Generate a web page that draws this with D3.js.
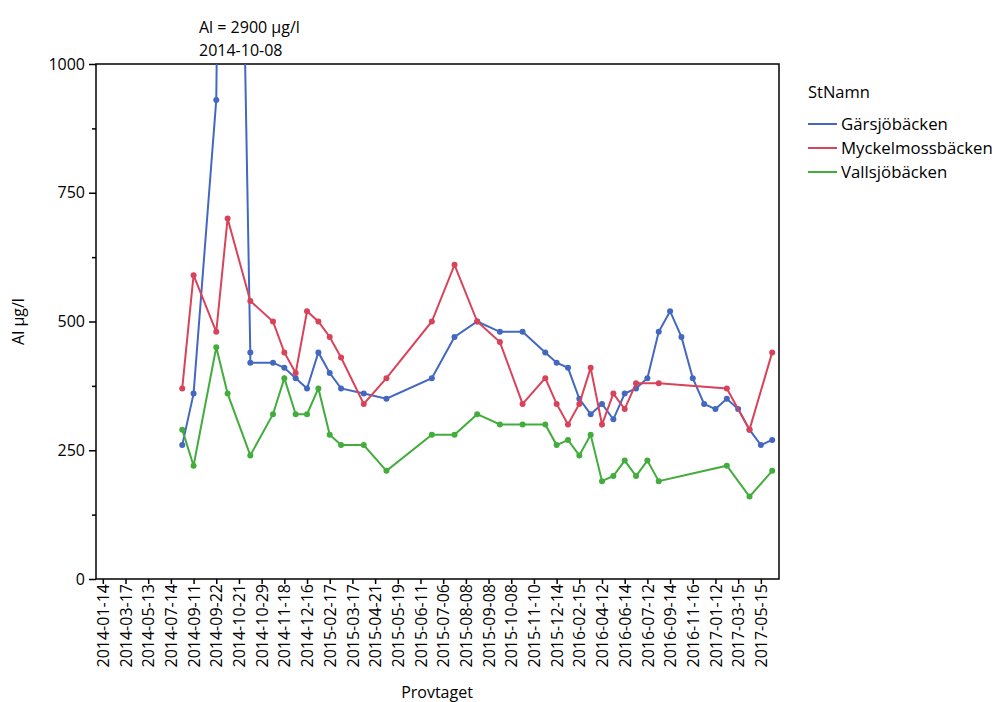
<!DOCTYPE html>
<html>
<head>
<meta charset="utf-8">
<script src="https://cdn.jsdelivr.net/npm/d3@7"></script>
<style>
  body { margin: 0; background: #fff; }
  text { font-family: "Open Sans", sans-serif; fill: #000; }
</style>
</head>
<body>
<svg id="chart" width="997" height="702"></svg>
<script>
// Tick labels, one for every second sample slot (60 slots in total)
const tickLabels = ["2014-01-14", "2014-03-17", "2014-05-13", "2014-07-14", "2014-09-11",
    "2014-09-22", "2014-10-21", "2014-10-29", "2014-11-18", "2014-12-16",
    "2015-02-17", "2015-03-17", "2015-04-21", "2015-05-19", "2015-06-11",
    "2015-07-06", "2015-08-08", "2015-09-08", "2015-10-08", "2015-11-10",
    "2015-12-14", "2016-02-15", "2016-04-12", "2016-06-14", "2016-07-12",
    "2016-09-14", "2016-11-16", "2017-01-12", "2017-03-15", "2017-05-15"];
const slotCount = 60;

const stations = ["Gärsjöbäcken", "Myckelmossbäcken", "Vallsjöbäcken"];

// [sample slot, Al µg/l]
const gars = [[7, 260], [8, 360], [10, 930], [11, 2900], [13, 440], [13, 420], [15, 420],
    [16, 410], [17, 390], [18, 370], [19, 440], [20, 400], [21, 370], [23, 360], [25, 350],
    [29, 390], [31, 470], [33, 500], [35, 480], [37, 480], [39, 440], [40, 420], [41, 410],
    [42, 350], [43, 320], [44, 340], [45, 310], [46, 360], [47, 370], [48, 390], [49, 480],
    [50, 520], [51, 470], [52, 390], [53, 340], [54, 330], [55, 350], [56, 330], [57, 290],
    [58, 260], [59, 270]];
const myckel = [[7, 370], [8, 590], [10, 480], [11, 700], [13, 540], [15, 500], [16, 440],
    [17, 400], [18, 520], [19, 500], [20, 470], [21, 430], [23, 340], [25, 390], [29, 500],
    [31, 610], [33, 500], [35, 460], [37, 340], [39, 390], [40, 340], [41, 300], [42, 340],
    [43, 410], [44, 300], [45, 360], [46, 330], [47, 380], [49, 380], [55, 370], [57, 290],
    [59, 440]];
const valls = [[7, 290], [8, 220], [10, 450], [11, 360], [13, 240], [15, 320], [16, 390],
    [17, 320], [18, 320], [19, 370], [20, 280], [21, 260], [23, 260], [25, 210], [29, 280],
    [31, 280], [33, 320], [35, 300], [37, 300], [39, 300], [40, 260], [41, 270], [42, 240],
    [43, 280], [44, 190], [45, 200], [46, 230], [47, 200], [48, 230], [49, 190], [55, 220],
    [57, 160], [59, 210]];

const yTicks = [0, 250, 500, 750, 1000];
const yMinorTicks = [125, 375, 625, 875];
const colors = ["#4468c0", "#d9435a", "#42ad3c"];

const svg = d3.select("#chart");
const plotLeft = 96, plotRight = 779, plotTop = 64, plotBottom = 579;

const x = d3.scalePoint()
    .domain(d3.range(slotCount))
    .range([plotLeft, plotRight])
    .padding(0.6);

const y = d3.scaleLinear()
    .domain([0, 1000])
    .range([plotBottom, plotTop]);

// Clip for the lines (the 2900 peak goes above the frame)
svg.append("clipPath").attr("id", "plot-clip")
    .append("rect")
    .attr("x", plotLeft).attr("y", plotTop)
    .attr("width", plotRight - plotLeft).attr("height", plotBottom - plotTop);

// Y axis
const yAxis = svg.append("g")
    .attr("transform", "translate(" + plotLeft + ",0)")
    .call(d3.axisLeft(y).tickValues(yTicks).tickSize(7).tickPadding(4).tickFormat(d3.format("d")));
yAxis.select(".domain").remove();
yAxis.selectAll("line").attr("stroke", "#000").attr("stroke-width", 1.5);
yAxis.selectAll("text").attr("font-size", "16px").attr("font-family", "Open Sans");

svg.append("g")
    .attr("transform", "translate(" + plotLeft + ",0)")
    .call(d3.axisLeft(y).tickValues(yMinorTicks).tickSize(4).tickFormat(""))
    .call(g => g.select(".domain").remove())
    .selectAll("line").attr("stroke", "#000").attr("stroke-width", 1.5);

// X axis, label on every second slot
const xAxis = svg.append("g")
    .attr("transform", "translate(0," + plotBottom + ")")
    .call(d3.axisBottom(x)
        .tickValues(d3.range(0, slotCount, 2))
        .tickSize(5)
        .tickFormat(i => tickLabels[i / 2]));
xAxis.select(".domain").remove();
xAxis.selectAll("line").attr("stroke", "#000").attr("stroke-width", 1.5);
xAxis.selectAll("text")
    .attr("font-size", "16px")
    .attr("font-family", "Open Sans")
    .attr("transform", "rotate(-90)")
    .attr("text-anchor", "end")
    .attr("x", -5)
    .attr("y", 0)
    .attr("dy", "0.35em");

// Frame
svg.append("rect")
    .attr("x", plotLeft).attr("y", plotTop)
    .attr("width", plotRight - plotLeft).attr("height", plotBottom - plotTop)
    .attr("fill", "none")
    .attr("stroke", "#000")
    .attr("stroke-width", 1.5);

// Lines and points
const line = d3.line()
    .x(d => x(d[0]))
    .y(d => y(d[1]));

const plot = svg.append("g").attr("clip-path", "url(#plot-clip)");
[gars, myckel, valls].forEach(function(series, i) {
    plot.append("path")
        .datum(series)
        .attr("d", line)
        .attr("fill", "none")
        .attr("stroke", colors[i])
        .attr("stroke-width", 2);

    plot.selectAll(".pt" + i)
        .data(series)
        .enter().append("circle")
        .attr("class", "pt" + i)
        .attr("cx", d => x(d[0]))
        .attr("cy", d => y(d[1]))
        .attr("r", 3)
        .attr("fill", colors[i]);
});

// Annotation for the clipped peak
svg.append("text")
    .attr("x", 199).attr("y", 33)
    .attr("font-size", "16px")
    .text("Al = 2900 µg/l");
svg.append("text")
    .attr("x", 199).attr("y", 56)
    .attr("font-size", "16px")
    .text("2014-10-08");

// Axis titles
svg.append("text")
    .attr("transform", "translate(24," + ((plotTop + plotBottom) / 2) + ") rotate(-90)")
    .attr("text-anchor", "middle")
    .attr("font-size", "16px")
    .text("Al µg/l");

svg.append("text")
    .attr("x", 437).attr("y", 698)
    .attr("text-anchor", "middle")
    .attr("font-size", "16px")
    .text("Provtaget");

// Legend
const legend = svg.append("g").attr("transform", "translate(808,0)");
legend.append("text")
    .attr("x", 0).attr("y", 98)
    .attr("font-size", "16.5px")
    .text("StNamn");

stations.forEach(function(name, i) {
    const ly = 124 + i * 24;
    legend.append("line")
        .attr("x1", 0).attr("x2", 29)
        .attr("y1", ly).attr("y2", ly)
        .attr("stroke", colors[i])
        .attr("stroke-width", 2);
    legend.append("text")
        .attr("x", 33).attr("y", ly)
        .attr("dy", "0.35em")
        .attr("font-size", "16.8px")
        .text(name);
});
</script>
</body>
</html>
